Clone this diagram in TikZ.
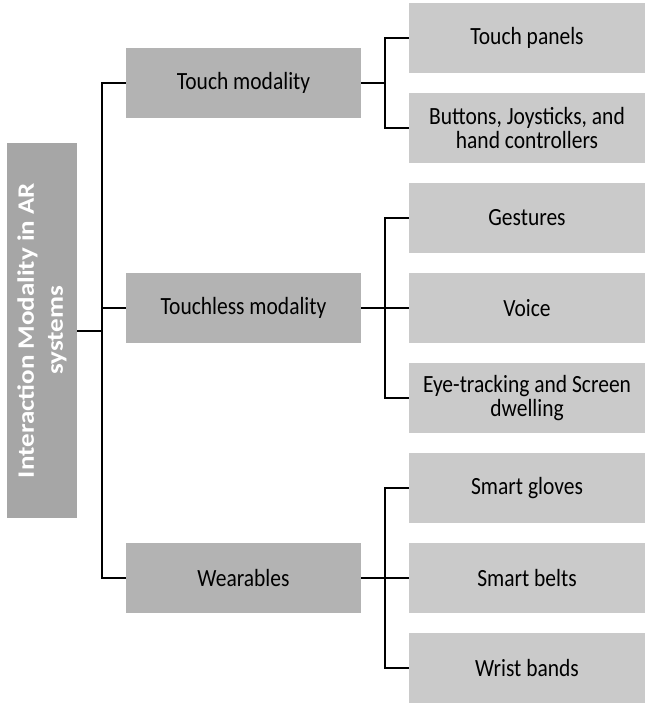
\documentclass[tikz,border=0pt]{standalone}
\usepackage{fontspec}
\setmainfont{Carlito}
\usepackage{graphicx}
\definecolor{rootcol}{HTML}{A6A6A6}
\definecolor{lonecol}{HTML}{B3B3B3}
\definecolor{ltwocol}{HTML}{CACACA}
\newcommand\stx[1]{\scalebox{1}[1.15]{\parbox{230pt}{\centering #1}}}
\begin{document}
\begin{tikzpicture}[x=1pt,y=-1pt,
  box/.style={rectangle, inner sep=0pt, align=center, text=black, font=\fontsize{21.5}{20.3}\selectfont},
  lvlone/.style={box, fill=lonecol, minimum width=235pt, minimum height=70pt},
  lvltwo/.style={box, fill=ltwocol, minimum width=236pt, minimum height=70pt},
  rootbox/.style={rectangle, inner sep=0pt, fill=rootcol, minimum width=70pt, minimum height=375pt},
  conn/.style={line width=2pt}]
\useasboundingbox (0,0) rectangle (645,705);
\node[rootbox] (root) at (42,330.5) {\rotatebox{90}{\scalebox{1.15}[1]{\parbox{320pt}{\centering\color{white}\bfseries\fontsize{23.5}{29}\selectfont Interaction Modality in AR\\systems}}}};
\node[lvlone] (touch) at (243.5,83) {\stx{Touch modality}};
\node[lvlone] (touchless) at (243.5,308) {\stx{Touchless modality}};
\node[lvlone] (wear) at (243.5,578) {\stx{Wearables}};
\node[lvltwo] (c1) at (527,38) {\stx{Touch panels}};
\node[lvltwo] (c2) at (527,128) {\stx{Buttons, Joysticks, and\\hand controllers}};
\node[lvltwo] (c3) at (527,218) {\stx{Gestures}};
\node[lvltwo] (c4) at (527,308) {\stx{Voice}};
\node[lvltwo] (c5) at (527,398) {\stx{Eye-tracking and Screen\\dwelling}};
\node[lvltwo] (c6) at (527,488) {\stx{Smart gloves}};
\node[lvltwo] (c7) at (527,578) {\stx{Smart belts}};
\node[lvltwo] (c8) at (527,668) {\stx{Wrist bands}};
\coordinate (j0) at (102,330.5);
\coordinate (ja) at (385,0);
\draw[conn] (root.east) -- (j0);
\draw[conn] (touch.west) -- (touch.west -| j0) -- (wear.west -| j0) -- (wear.west);
\draw[conn] (touchless.west) -- (touchless.west -| j0);
\draw[conn] (touch.east) -- (touch.east -| ja);
\draw[conn] (c1.west) -- (c1.west -| ja) -- (c2.west -| ja) -- (c2.west);
\draw[conn] (touchless.east) -- (touchless.east -| ja);
\draw[conn] (c3.west) -- (c3.west -| ja) -- (c5.west -| ja) -- (c5.west);
\draw[conn] (c4.west) -- (c4.west -| ja);
\draw[conn] (wear.east) -- (wear.east -| ja);
\draw[conn] (c6.west) -- (c6.west -| ja) -- (c8.west -| ja) -- (c8.west);
\draw[conn] (c7.west) -- (c7.west -| ja);
\end{tikzpicture}
\end{document}
